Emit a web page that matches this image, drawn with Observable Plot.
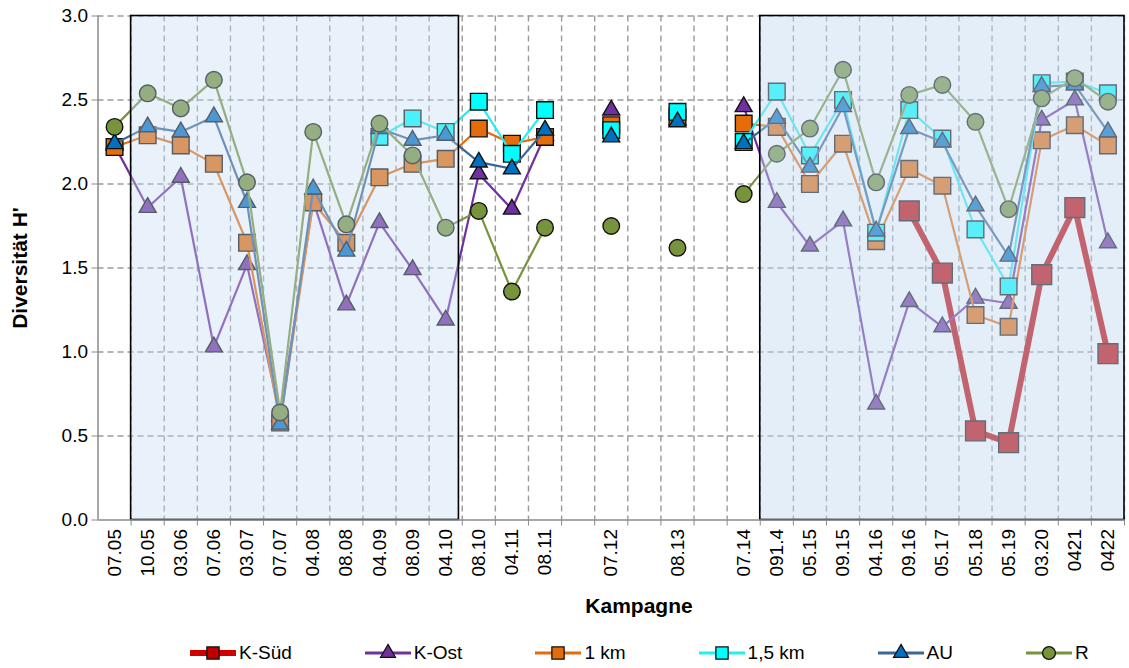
<!DOCTYPE html>
<html>
<head>
<meta charset="utf-8">
<script src="https://cdn.jsdelivr.net/npm/d3@7"></script>
<script src="https://cdn.jsdelivr.net/npm/@observablehq/plot@0.6"></script>
<style>
  html, body { margin: 0; padding: 0; background: #fff; }
  body { font-family: "Liberation Sans", Arial, sans-serif; color: #000; }
  #wrap { position: relative; width: 1129px; height: 668px; overflow: hidden; }
  #chart { position: absolute; left: 0; top: 0; }
  #xlabel { position: absolute; top: 594px; left: 639px; transform: translateX(-50%);
            font-size: 21px; font-weight: bold; line-height: 24px; white-space: nowrap; }
  #legend { position: absolute; top: 642px; left: 190px; height: 22px; display: flex; align-items: center; }
  .item { display: flex; align-items: center; margin-right: 73px; font-size: 19px; line-height: 22px; white-space: nowrap; }
  .item svg { display: block; margin-right: 3px; }
</style>
</head>
<body>
<div id="wrap">
  <div id="chart"></div>
  <div id="xlabel">Kampagne</div>
  <div id="legend"></div>
</div>
<script>
// ---------- data ----------
const categories = ["07.05","10.05","03.06","07.06","03.07","07.07","04.08","08.08","04.09","08.09","04.10",
  "08.10","04.11","08.11","","07.12","","08.13","","07.14",
  "091.4","05.15","09.15","04.16","09.16","05.17","05.18","05.19","03.20","0421","0422"];

const seriesNames = ["K-Süd", "K-Ost", "1 km", "1,5 km", "AU", "R"];

const kSued = [null,null,null,null,null,null,null,null,null,null,null,
  null,null,null,null,null,null,null,null,null,
  null,null,null,null,1.84,1.47,0.53,0.46,1.46,1.86,0.99];

const kOst = [2.23,1.86,2.04,1.03,1.52,0.62,1.90,1.28,1.77,1.49,1.19,
  2.06,1.85,2.29,null,2.44,null,2.38,null,2.46,
  1.89,1.63,1.78,0.69,1.30,1.15,1.32,1.29,2.38,2.50,1.65];

const km1 = [2.22,2.29,2.23,2.12,1.65,0.58,1.89,1.65,2.04,2.12,2.15,
  2.33,2.24,2.28,null,2.35,null,2.40,null,2.36,
  2.34,2.00,2.24,1.66,2.09,1.99,1.22,1.15,2.26,2.35,2.23];

const km15 = [null,null,null,null,null,null,null,null,2.28,2.39,2.31,
  2.49,2.18,2.44,null,2.32,null,2.43,null,2.25,
  2.55,2.17,2.50,1.71,2.44,2.27,1.73,1.39,2.60,2.61,2.54];

const au = [2.24,2.34,2.31,2.40,1.89,0.57,1.97,1.60,2.33,2.26,2.29,
  2.13,2.09,2.32,null,2.28,null,2.37,null,2.24,
  2.39,2.10,2.46,1.72,2.33,2.25,1.87,1.57,2.58,2.59,2.31];

const rRef = [2.34,2.54,2.45,2.62,2.01,0.64,2.31,1.76,2.36,2.17,1.74,
  1.84,1.36,1.74,null,1.75,null,1.62,null,1.94,
  2.18,2.33,2.68,2.01,2.53,2.59,2.37,1.85,2.51,2.63,2.49];

const yTicks = [0, 0.5, 1.0, 1.5, 2.0, 2.5, 3.0];
const highlightPeriods = [["10.05", "04.10"], ["091.4", "0422"]];

// ---------- styles ----------
const seriesValues = { "K-Süd": kSued, "K-Ost": kOst, "1 km": km1, "1,5 km": km15, "AU": au, "R": rRef };
const styles = {
  "K-Süd":  { symbol: "square",   fill: "#C00000", line: "#C00000", lw: 6,   r: 11.2 },
  "K-Ost":  { symbol: "triangle", fill: "#7030A0", line: "#7030A0", lw: 2.2, r: 6.3 },
  "1 km":   { symbol: "square",   fill: "#E46C0A", line: "#E46C0A", lw: 2.2, r: 9.4 },
  "1,5 km": { symbol: "square",   fill: "#00FFFF", line: "#22F0F0", lw: 2.2, r: 9.4 },
  "AU":     { symbol: "triangle", fill: "#0070C0", line: "#3B6696", lw: 2.2, r: 6.3 },
  "R":      { symbol: "circle",   fill: "#77933C", line: "#77933C", lw: 2.2, r: 8.3 }
};

const rows = seriesNames.flatMap(name =>
  seriesValues[name].map((v, i) => ({ series: name, i, v })));

const lastIdx = categories.length - 1;
const boundaries = d3.range(0, categories.length).map(i => i + 0.5);
const labelIdx = categories.map((c, i) => c ? i : null).filter(i => i != null);
const periods = highlightPeriods.map(([a, b]) => {
  const e = categories.indexOf(b);
  return { x1: categories.indexOf(a) - 0.5, x2: e === lastIdx ? e + 0.5 : e + 0.4 };
});

const marks = [
  Plot.ruleY(yTicks.slice(1), { stroke: "#9a9a9a", strokeWidth: 1.4, strokeDasharray: "6,4" }),
  Plot.ruleX(boundaries, { stroke: "#9a9a9a", strokeWidth: 1.4, strokeDasharray: "6,4" })
];
for (const name of seriesNames) {
  const s = styles[name];
  const data = rows.filter(d => d.series === name);
  marks.push(Plot.line(data, { x: "i", y: "v", stroke: s.line, strokeWidth: s.lw }));
  marks.push(Plot.dot(data.filter(d => d.v != null), {
    x: "i", y: "v", symbol: s.symbol, r: s.r, fill: s.fill, stroke: "#111", strokeWidth: 1.4
  }));
}
marks.push(
  Plot.rect([periods[0]], { x1: "x1", x2: "x2", y1: 0, y2: 3, fill: "rgb(197,217,241)", fillOpacity: 0.38, stroke: "#000", strokeWidth: 1.6 }),
  Plot.rect([periods[1]], { x1: "x1", x2: "x2", y1: 0, y2: 3, fill: "rgb(197,217,241)", fillOpacity: 0.46, stroke: "#000", strokeWidth: 1.6 }),
  Plot.ruleX([-0.5], { stroke: "#8a8a8a", strokeWidth: 1.5 }),
  Plot.ruleY([0], { stroke: "#8a8a8a", strokeWidth: 1.5 }),
  Plot.axisX({ ticks: boundaries, tickSize: 6, tickFormat: () => "", stroke: "#8a8a8a", label: null }),
  Plot.axisX({ ticks: labelIdx, tickFormat: i => categories[i], tickRotate: -90, tickSize: 0,
               tickPadding: 9, fontSize: 19, label: null }),
  Plot.axisY({ ticks: yTicks, tickFormat: d => d.toFixed(1), tickSize: 6, tickPadding: 4,
               stroke: "#8a8a8a", fontSize: 19, label: "Diversität H'", labelAnchor: "center",
               labelArrow: "none", labelOffset: 86 })
);

const chart = Plot.plot({
  width: 1129,
  height: 582,
  marginLeft: 97.5,
  marginRight: 5,
  marginTop: 15.5,
  marginBottom: 62.5,
  style: { fontFamily: "'Liberation Sans', Arial, sans-serif", fontSize: "19px", color: "#000", background: "#fff", overflow: "visible" },
  x: { type: "linear", domain: [-0.5, categories.length - 0.5] },
  y: { domain: [0, 3] },
  marks
});
document.getElementById("chart").appendChild(chart);
chart.querySelectorAll('[aria-label="y-axis label"] text').forEach(t => {
  t.style.fontWeight = "bold"; t.style.fontSize = "21px";
});

// ---------- legend ----------
const legend = d3.select("#legend");
for (const name of seriesNames) {
  const s = styles[name];
  const item = legend.append("div").attr("class", "item");
  const svg = item.append("svg").attr("width", 46).attr("height", 22);
  svg.append("line").attr("x1", 0).attr("x2", 46).attr("y1", 11).attr("y2", 11)
    .attr("stroke", name === "K-Süd" ? "#D00000" : s.line).attr("stroke-width", name === "K-Süd" ? 6 : 3);
  const sym = { square: d3.symbolSquare, triangle: d3.symbolTriangle, circle: d3.symbolCircle }[s.symbol];
  const size = s.symbol === "square" ? 150 : s.symbol === "triangle" ? 95 : 130;
  svg.append("path").attr("d", d3.symbol(sym, size)()).attr("transform", "translate(23,11)")
    .attr("fill", s.fill).attr("stroke", "#111").attr("stroke-width", 1.3);
  item.append("span").text(name);
}
</script>
</body>
</html>
